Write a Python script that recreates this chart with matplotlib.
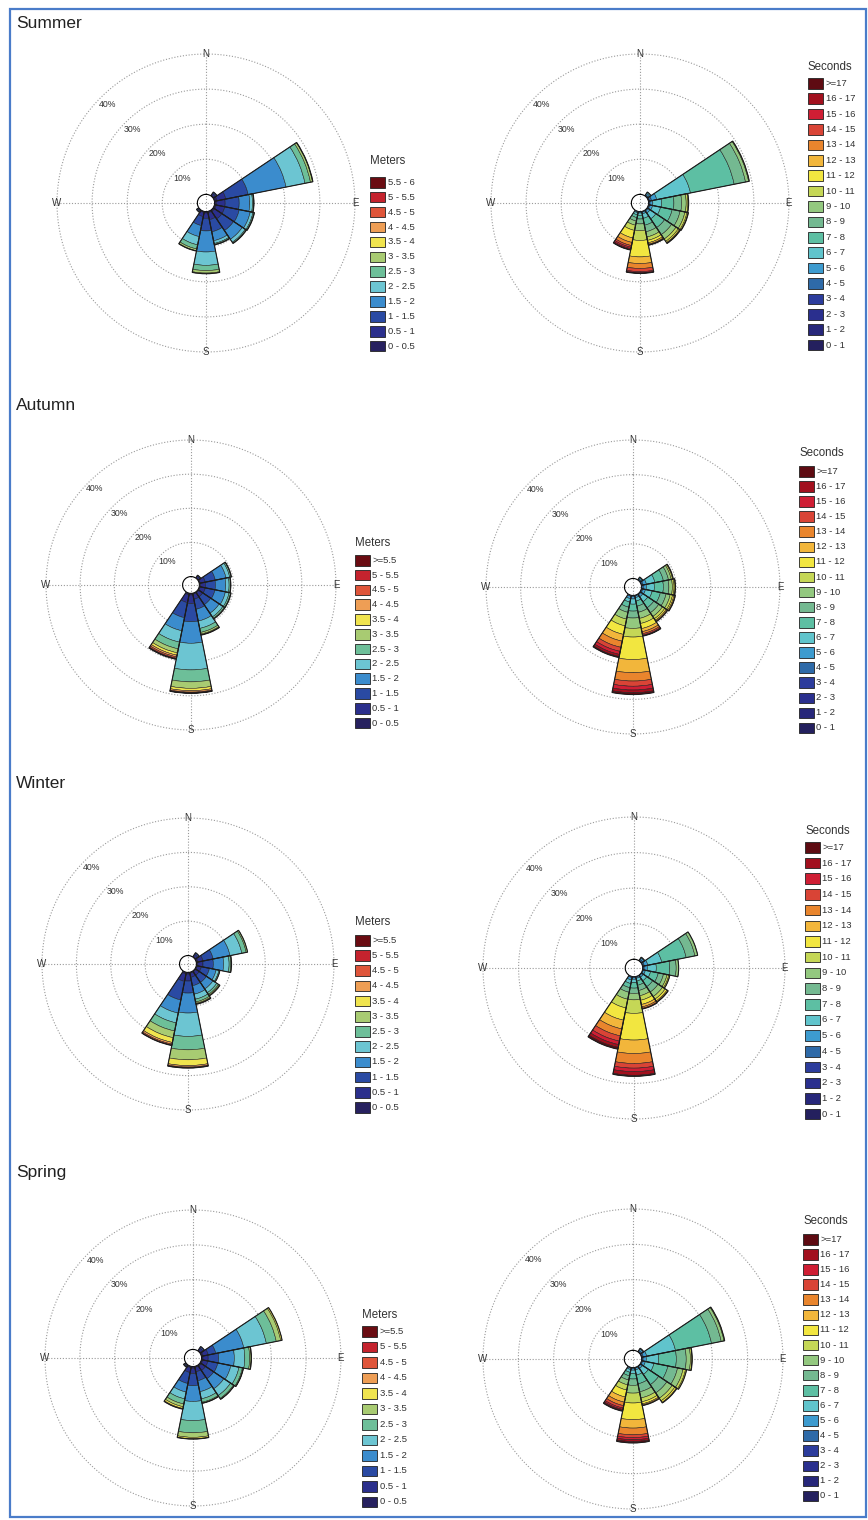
import numpy as np
import matplotlib
matplotlib.use("Agg")
import matplotlib.pyplot as plt
from matplotlib.patches import Rectangle, Circle

plt.rcParams['font.family'] = ['Liberation Sans', 'DejaVu Sans']

# ---------------- data ----------------
DIRS = ['N', 'NNE', 'NE', 'ENE', 'E', 'ESE', 'SE', 'SSE',
        'S', 'SSW', 'SW', 'WSW', 'W', 'WNW', 'NW', 'NNW']
SEASONS = ['Summer', 'Autumn', 'Winter', 'Spring']

HS_LABELS = ['0 - 0.5', '0.5 - 1', '1 - 1.5', '1.5 - 2', '2 - 2.5', '2.5 - 3',
             '3 - 3.5', '3.5 - 4', '4 - 4.5', '4.5 - 5', '5 - 5.5', '5.5 - 6']
HS_LABELS_OPEN = HS_LABELS[:-1] + ['>=5.5']
TP_LABELS = ['0 - 1', '1 - 2', '2 - 3', '3 - 4', '4 - 5', '5 - 6', '6 - 7',
             '7 - 8', '8 - 9', '9 - 10', '10 - 11', '11 - 12', '12 - 13',
             '13 - 14', '14 - 15', '15 - 16', '16 - 17', '>=17']
PCT_TICKS = [10, 20, 30, 40]
PCT_LABELS = ['10%', '20%', '30%', '40%']
COMPASS = ['N', 'E', 'S', 'W']

# percent of occurrence per height bin (Meters), per direction
SUMMER_HS_DIRS = ['NE', 'ENE', 'E', 'ESE', 'SE', 'SSE', 'S', 'SSW', 'SW']
SUMMER_HS = [
    [0.3, 0.6, 0.4],
    [0.8, 2.5, 6.5, 11.0, 5.5, 1.6, 0.6, 0.1],
    [0.5, 2.5, 4.0, 3.0, 0.8, 0.3, 0.1],
    [0.5, 2.5, 4.2, 3.2, 0.8, 0.3, 0.1],
    [0.5, 2.5, 4.0, 3.0, 1.0, 0.3, 0.1],
    [0.4, 2.0, 3.5, 2.6, 0.8, 0.3, 0.1],
    [0.4, 1.5, 3.6, 6.0, 3.8, 1.5, 0.7, 0.2],
    [0.3, 1.2, 2.6, 3.2, 2.4, 1.2, 0.5, 0.1],
    [0.1, 0.3, 0.3, 0.1],
]
# percent of occurrence per period bin (Seconds), per direction
SUMMER_TP_DIRS = ['NE', 'ENE', 'E', 'ESE', 'SE', 'SSE', 'S', 'SSW']
SUMMER_TP = [
    [0, 0, 0, 0.1, 0.3, 0.5, 0.4],
    [0, 0, 0.1, 0.2, 0.6, 1.5, 9.8, 12.7, 3.3, 0.9, 0.2],
    [0, 0, 0, 0.1, 0.3, 0.8, 2.5, 3.5, 2.2, 1.3, 0.5, 0.2],
    [0, 0, 0, 0.1, 0.3, 0.8, 2.3, 3.4, 2.3, 1.4, 0.6, 0.3, 0.1],
    [0, 0, 0, 0, 0.3, 0.7, 2.0, 3.0, 2.4, 1.5, 0.8, 0.4, 0.2, 0.1],
    [0, 0, 0, 0, 0.2, 0.5, 1.3, 2.0, 1.9, 1.5, 1.0, 0.7, 0.4, 0.2, 0.1],
    [0, 0, 0, 0, 0.1, 0.3, 0.7, 1.0, 1.4, 1.9, 2.8, 4.7, 1.9, 1.4, 0.9, 0.3, 0.15, 0.05],
    [0, 0, 0, 0, 0.1, 0.3, 0.6, 0.8, 1.0, 1.2, 1.5, 2.2, 1.3, 0.9, 0.5, 0.4, 0.3, 0.1],
]

AUTUMN_HS_DIRS = ['NE', 'ENE', 'E', 'ESE', 'SE', 'SSE', 'S', 'SSW']
AUTUMN_HS = [
    [0.2, 0.5, 0.3],
    [0.3, 1.5, 3.0, 3.2, 1.1, 0.4, 0.1],
    [0.3, 1.5, 2.9, 3.0, 1.0, 0.4, 0.1],
    [0.3, 1.5, 2.9, 3.1, 1.1, 0.45, 0.15],
    [0.3, 1.4, 2.8, 3.0, 1.3, 0.5, 0.2],
    [0.3, 1.5, 3.0, 3.5, 2.2, 1.2, 0.5, 0.2, 0.1],
    [0.5, 2.5, 5.3, 6.3, 7.8, 3.5, 1.9, 0.7, 0.4, 0.2, 0.1, 0.05],
    [0.5, 2.3, 4.5, 3.9, 3.4, 2.0, 1.2, 0.7, 0.5, 0.4, 0.2, 0.1],
]
AUTUMN_TP_DIRS = ['NE', 'ENE', 'E', 'ESE', 'SE', 'SSE', 'S', 'SSW']
AUTUMN_TP = [
    [0, 0, 0, 0.1, 0.3, 0.4, 0.2],
    [0, 0, 0, 0.1, 0.4, 1.0, 2.5, 2.5, 1.5, 0.8, 0.4, 0.2],
    [0, 0, 0, 0.1, 0.4, 0.9, 2.3, 2.6, 1.6, 1.0, 0.5, 0.3, 0.1],
    [0, 0, 0, 0.1, 0.3, 0.8, 2.0, 2.4, 1.7, 1.2, 0.7, 0.4, 0.3, 0.1],
    [0, 0, 0, 0, 0.3, 0.7, 1.7, 2.1, 1.7, 1.3, 0.8, 0.5, 0.3, 0.2],
    [0, 0, 0, 0, 0.2, 0.5, 1.0, 1.5, 1.8, 1.8, 1.5, 1.5, 0.9, 0.6, 0.4, 0.2, 0.1],
    [0, 0, 0, 0, 0.3, 0.7, 1.5, 2.0, 2.0, 3.0, 2.5, 6.5, 3.8, 2.4, 1.5, 1.1, 0.8, 0.5],
    [0, 0, 0, 0, 0.3, 0.7, 1.0, 1.5, 1.5, 2.0, 2.0, 2.5, 2.0, 1.8, 1.2, 0.9, 0.6, 0.3],
]

WINTER_HS_DIRS = ['NE', 'ENE', 'E', 'ESE', 'SE', 'SSE', 'S', 'SSW']
WINTER_HS = [
    [0.3, 0.7, 0.5],
    [0.5, 1.5, 3.0, 5.0, 3.5, 1.3, 0.4],
    [0.4, 1.5, 3.0, 3.0, 1.6, 0.5, 0.2],
    [0.3, 1.2, 2.4, 2.0, 0.8, 0.3],
    [0.3, 1.2, 2.5, 2.3, 1.3, 0.6, 0.3, 0.2],
    [0.3, 1.2, 2.5, 2.5, 1.5, 0.8, 0.4, 0.2, 0.1],
    [0.5, 2.0, 3.5, 5.8, 6.8, 3.9, 2.9, 1.7, 0.4, 0.2, 0.1],
    [0.5, 2.2, 5.5, 3.9, 2.9, 2.4, 2.0, 1.4, 0.5, 0.3, 0.1],
]
WINTER_TP_DIRS = ['NE', 'ENE', 'E', 'ESE', 'SE', 'SSE', 'S', 'SSW']
WINTER_TP = [
    [0, 0, 0, 0.1, 0.4, 0.5, 0.2],
    [0, 0, 0, 0.1, 0.4, 1.0, 4.0, 7.0, 2.5, 0.8],
    [0, 0, 0, 0.1, 0.3, 0.9, 2.5, 3.8, 1.8, 0.7],
    [0, 0, 0, 0, 0.2, 0.6, 1.5, 2.2, 1.5, 1.0, 0.5, 0.3],
    [0, 0, 0, 0, 0.2, 0.5, 1.2, 2.0, 1.8, 1.5, 0.9, 0.6, 0.3, 0.1],
    [0, 0, 0, 0, 0.1, 0.4, 0.8, 1.2, 1.5, 1.5, 1.3, 1.2, 0.7, 0.4, 0.2],
    [0, 0, 0, 0, 0.2, 0.5, 1.0, 1.5, 1.5, 1.8, 3.8, 7.5, 3.8, 2.8, 1.3, 1.0, 1.0, 0.3],
    [0, 0, 0, 0, 0.3, 0.7, 1.0, 1.2, 1.3, 2.0, 2.5, 3.5, 2.5, 2.0, 1.5, 1.0, 0.8, 0.5],
]

SPRING_HS_DIRS = ['NE', 'ENE', 'E', 'ESE', 'SE', 'SSE', 'S', 'SSW', 'SW']
SPRING_HS = [
    [0.3, 0.7, 0.5],
    [0.5, 1.5, 2.2, 8.2, 6.6, 2.9, 1.3, 0.4],
    [0.4, 1.5, 3.0, 4.5, 3.0, 1.4, 0.4, 0.1],
    [0.4, 1.5, 2.9, 3.8, 2.4, 1.0, 0.25, 0.05],
    [0.4, 1.5, 2.8, 3.5, 2.3, 1.0, 0.25, 0.05],
    [0.3, 1.3, 2.6, 3.2, 2.1, 1.0, 0.25, 0.05],
    [0.5, 1.5, 3.5, 4.5, 5.5, 3.5, 1.3, 0.4, 0.1],
    [0.4, 1.4, 3.2, 2.5, 2.0, 1.5, 0.8, 0.5, 0.2],
    [0.1, 0.3, 0.3, 0.1],
]
SPRING_TP_DIRS = ['NE', 'ENE', 'E', 'ESE', 'SE', 'SSE', 'S', 'SSW']
SPRING_TP = [
    [0, 0, 0, 0.1, 0.4, 0.5, 0.2],
    [0, 0, 0, 0.1, 0.4, 1.0, 8.3, 10.4, 2.8, 0.8, 0.2],
    [0, 0, 0, 0.1, 0.3, 0.9, 3.5, 5.0, 2.8, 1.2, 0.4, 0.1],
    [0, 0, 0, 0, 0.3, 0.8, 2.5, 4.0, 2.8, 1.6, 0.7, 0.3],
    [0, 0, 0, 0, 0.2, 0.6, 2.0, 3.5, 2.8, 1.8, 0.9, 0.5, 0.2],
    [0, 0, 0, 0, 0.2, 0.5, 1.5, 2.5, 2.3, 1.8, 1.1, 0.6, 0.3, 0.2],
    [0, 0, 0, 0, 0.2, 0.5, 1.0, 1.5, 1.8, 2.2, 2.8, 4.7, 2.4, 1.9, 0.8, 0.6, 0.5, 0.4],
    [0, 0, 0, 0, 0.2, 0.4, 0.8, 1.0, 1.2, 1.4, 1.5, 2.0, 1.5, 1.0, 0.7, 0.4, 0.3, 0.2],
]

# ---------------- styles ----------------
HS_COLORS = ['#27215f', '#2b2f8c', '#2a4aa3', '#3b8ccd', '#6cc5d2', '#6dbf99',
             '#a8cb72', '#f0e44e', '#ee9e55', '#df553a', '#c5232e', '#6a0c12']
TP_COLORS = ['#24205e', '#27277a', '#2a2f8e', '#2c3c9c', '#2e6aa8', '#3d9bcf',
             '#60c4cc', '#5dbfa3', '#74b991', '#93c87f', '#c5d756', '#f2e640',
             '#f2b63b', '#e9852d', '#d94436', '#cf1e34', '#a2101e', '#5e0b12']

W, H = 868, 1520
fig = plt.figure(figsize=(W / 100, H / 100), dpi=100)
fig.patch.set_facecolor('white')
ov = fig.add_axes([0, 0, 1, 1])
ov.set_xlim(0, W)
ov.set_ylim(H, 0)
ov.axis('off')

TITLE_Y = [24, 405, 783, 1173]
ROSE_L = [(206, 203, 149), (191, 585, 145), (188, 964, 146), (193, 1358, 148)]
ROSE_R = [(640, 203, 149), (633, 587, 147), (634, 968, 151), (633, 1359, 150)]
LEG_L = [(370, 161, 182, 14.9), (355, 543, 560, 14.8), (355, 922, 940, 15.2), (362, 1315, 1331, 15.5)]
LEG_R = [(808, 67, 83, 15.4), (799, 453, 471, 15.1), (805, 831, 847, 15.7), (803, 1221, 1239, 15.1)]

HS_DATA = [(SUMMER_HS_DIRS, SUMMER_HS), (AUTUMN_HS_DIRS, AUTUMN_HS),
           (WINTER_HS_DIRS, WINTER_HS), (SPRING_HS_DIRS, SPRING_HS)]
TP_DATA = [(SUMMER_TP_DIRS, SUMMER_TP), (AUTUMN_TP_DIRS, AUTUMN_TP),
           (WINTER_TP_DIRS, WINTER_TP), (SPRING_TP_DIRS, SPRING_TP)]

GRID_C = '#9a9a9a'
EDGE_C = '#1c1c1c'
TXT_C = '#333333'
SECTOR = 2 * np.pi / len(DIRS)


def draw_rose(cx, cy, R, dirs, rows, colors):
    # dotted compass cross (through center)
    ov.plot([cx - R, cx + R], [cy, cy], ls=(0, (1, 1.6)), color=GRID_C, lw=0.8, zorder=1)
    ov.plot([cx, cx], [cy - R, cy + R], ls=(0, (1, 1.6)), color=GRID_C, lw=0.8, zorder=1)
    ax = fig.add_axes([(cx - R) / W, 1 - (cy + R) / H, 2 * R / W, 2 * R / H],
                      projection='polar')
    ax.set_facecolor('none')
    ax.set_theta_zero_location('N')
    ax.set_theta_direction(-1)
    ax.set_ylim(0, PCT_TICKS[-1])
    ax.set_rorigin(-2.46)
    ax.set_xticks([])
    ax.set_yticks([])
    ax.grid(False)
    ax.spines['polar'].set_visible(False)
    th = np.linspace(0, 2 * np.pi, 400)
    for p in PCT_TICKS:
        ax.plot(th, np.full_like(th, p), ls=(0, (1, 1.6)), color=GRID_C, lw=0.8,
                zorder=1, clip_on=False)
    for p, lab in zip(PCT_TICKS, PCT_LABELS):
        ax.text(np.deg2rad(315), p - 2.7, lab, ha='center', va='center',
                fontsize=6.3, color=TXT_C, zorder=2)
    for i, lab in enumerate(COMPASS):
        ax.text(i * np.pi / 2, PCT_TICKS[-1], lab, ha='center', va='center',
                fontsize=7, color=TXT_C, zorder=2, clip_on=False)
    for d, vals in zip(dirs, rows):
        theta = DIRS.index(d) * SECTOR
        bottom = 0.0
        for k, v in enumerate(vals):
            if v > 0:
                ax.bar(theta, v, width=SECTOR, bottom=bottom, color=colors[k],
                       edgecolor=EDGE_C, linewidth=0.35, zorder=3)
            bottom += v
        ax.bar(theta, bottom, width=SECTOR, bottom=0, fill=False,
               edgecolor=EDGE_C, linewidth=0.8, zorder=4)
    ax.add_patch(Circle((0.5, 0.5), 5.0 / (2 * R), transform=ax.transAxes,
                        facecolor='white', edgecolor='#222222', lw=0.9, zorder=6))
    return ax


def draw_legend(x, ytitle, yfirst, step, title, labels, colors):
    ov.text(x, ytitle, title, fontsize=8.3, ha='left', va='center', color=TXT_C)
    n = len(labels)
    for i in range(n):
        k = n - 1 - i
        y = yfirst + i * step
        ov.add_patch(Rectangle((x, y - 5), 15, 10.5, facecolor=colors[k],
                               edgecolor='#222222', lw=0.6, zorder=3))
        ov.text(x + 17.5, y + 0.3, labels[k], fontsize=6.8, ha='left', va='center',
                color=TXT_C)


for s, season in enumerate(SEASONS):
    ov.text(16, TITLE_Y[s], season, fontsize=12.5, ha='left', va='center', color='#222222')
    cx, cy, R = ROSE_L[s]
    draw_rose(cx, cy, R, HS_DATA[s][0], HS_DATA[s][1], HS_COLORS)
    cx, cy, R = ROSE_R[s]
    draw_rose(cx, cy, R, TP_DATA[s][0], TP_DATA[s][1], TP_COLORS)
    hs_labels = HS_LABELS if s == 0 else HS_LABELS_OPEN
    draw_legend(*LEG_L[s], 'Meters', hs_labels, HS_COLORS)
    draw_legend(*LEG_R[s], 'Seconds', TP_LABELS, TP_COLORS)

ov.add_patch(Rectangle((10, 9), 856, 1508, fill=False, edgecolor='#4a7cc9', lw=1.6, zorder=10))

fig.savefig('out.png', dpi=100)
